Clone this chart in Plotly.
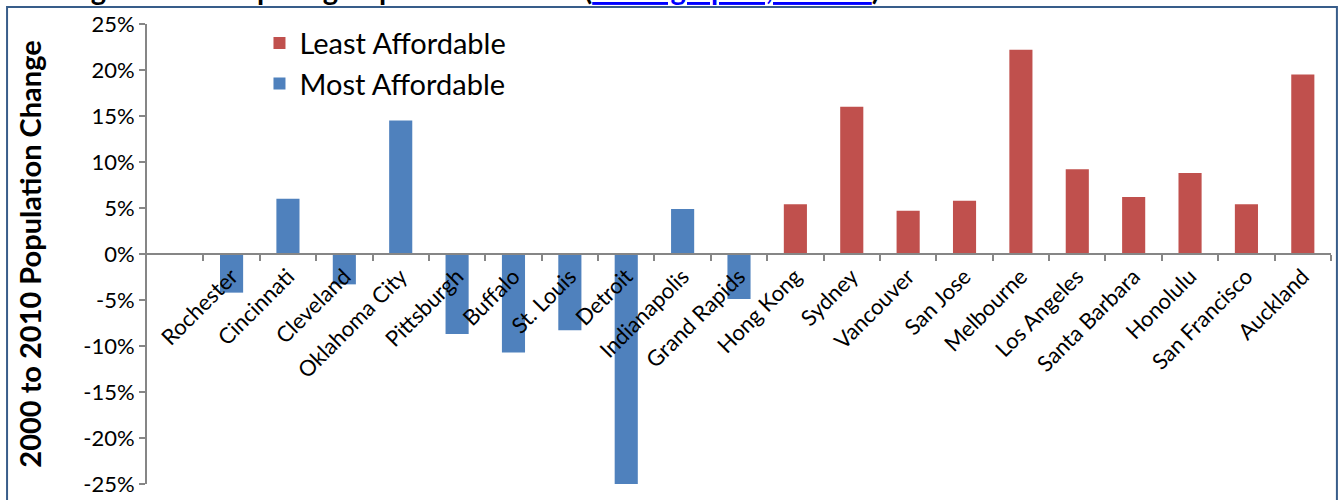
import plotly.graph_objects as go

# ---- data ----
most_affordable_cities = ["Rochester", "Cincinnati", "Cleveland", "Oklahoma City", "Pittsburgh",
                          "Buffalo", "St. Louis", "Detroit", "Indianapolis", "Grand Rapids"]
most_affordable_change = [-4.2, 6.0, -3.3, 14.5, -8.7, -10.7, -8.3, -25.0, 4.9, -4.9]

least_affordable_cities = ["Hong Kong", "Sydney", "Vancouver", "San Jose", "Melbourne",
                           "Los Angeles", "Santa Barbara", "Honolulu", "San Francisco", "Auckland"]
least_affordable_change = [5.4, 16.0, 4.7, 5.8, 22.2, 9.2, 6.2, 8.8, 5.4, 19.5]

y_ticks = [25, 20, 15, 10, 5, 0, -5, -10, -15, -20, -25]
y_tick_labels = ["25%", "20%", "15%", "10%", "5%", "0%", "-5%", "-10%", "-15%", "-20%", "-25%"]

all_cities = most_affordable_cities + least_affordable_cities

FONT = "Lato, 'Open Sans', sans-serif"
BLUE = "#4F81BD"
RED = "#C0504D"
AXIS = "#868686"

fig = go.Figure()
fig.add_trace(go.Bar(x=least_affordable_cities, y=least_affordable_change,
                     name="Least Affordable", marker=dict(color=RED, line=dict(width=0))))
fig.add_trace(go.Bar(x=most_affordable_cities, y=most_affordable_change,
                     name="Most Affordable", marker=dict(color=BLUE, line=dict(width=0))))

fig.update_layout(
    width=1340, height=500,
    margin=dict(l=147, r=9, t=24, b=16, autoexpand=False),
    paper_bgcolor="white", plot_bgcolor="white",
    barmode="overlay", bargap=0.59,
    font=dict(family=FONT, color="black", size=22),
    showlegend=True,
    legend=dict(x=0.095, y=1.014, xanchor="left", yanchor="top",
                font=dict(size=29, family=FONT), bgcolor="rgba(0,0,0,0)",
                tracegroupgap=0, itemwidth=30),
    xaxis=dict(type="category", categoryorder="array", categoryarray=all_cities,
               range=[-1.5, 19.5], anchor="free", position=0.5, automargin=False,
               showline=True, linecolor=AXIS, linewidth=2,
               ticks="outside", tickson="boundaries", ticklen=6, tickcolor=AXIS, tickwidth=2,
               tickangle=-45, tickfont=dict(size=22, family=FONT),
               showgrid=False, zeroline=False, fixedrange=True),
    yaxis=dict(range=[-25, 25], tickvals=y_ticks, ticktext=y_tick_labels, automargin=False,
               showline=True, linecolor=AXIS, linewidth=2,
               ticks="outside", ticklen=6, tickcolor=AXIS, tickwidth=2,
               tickfont=dict(size=22, family=FONT),
               showgrid=False, zeroline=False,
               title=dict(text="<b>2000 to 2010 Population Change</b>",
                          font=dict(size=29, family=FONT), standoff=33)),
)

# outer chart frame
fig.add_shape(type="rect", xref="paper", yref="paper",
              x0=-0.1182, x1=1.005, y0=-0.08, y1=1.037,
              line=dict(color="#385D8A", width=2), layer="below")

# clipped heading above the frame
fig.add_annotation(xref="paper", yref="paper", x=-0.069, y=1.034,
                   xanchor="left", yanchor="bottom", showarrow=False,
                   text="<b>Figure 4 - Comparing Population Trends (<span style='color:#0000FF'><u>Demographia, Census</u></span>)</b>",
                   font=dict(size=29, family=FONT, color="black"))

fig.write_html("out.html", config={"displayModeBar": False},
               post_script="document.body.style.margin='0';document.body.style.overflow='hidden';")
